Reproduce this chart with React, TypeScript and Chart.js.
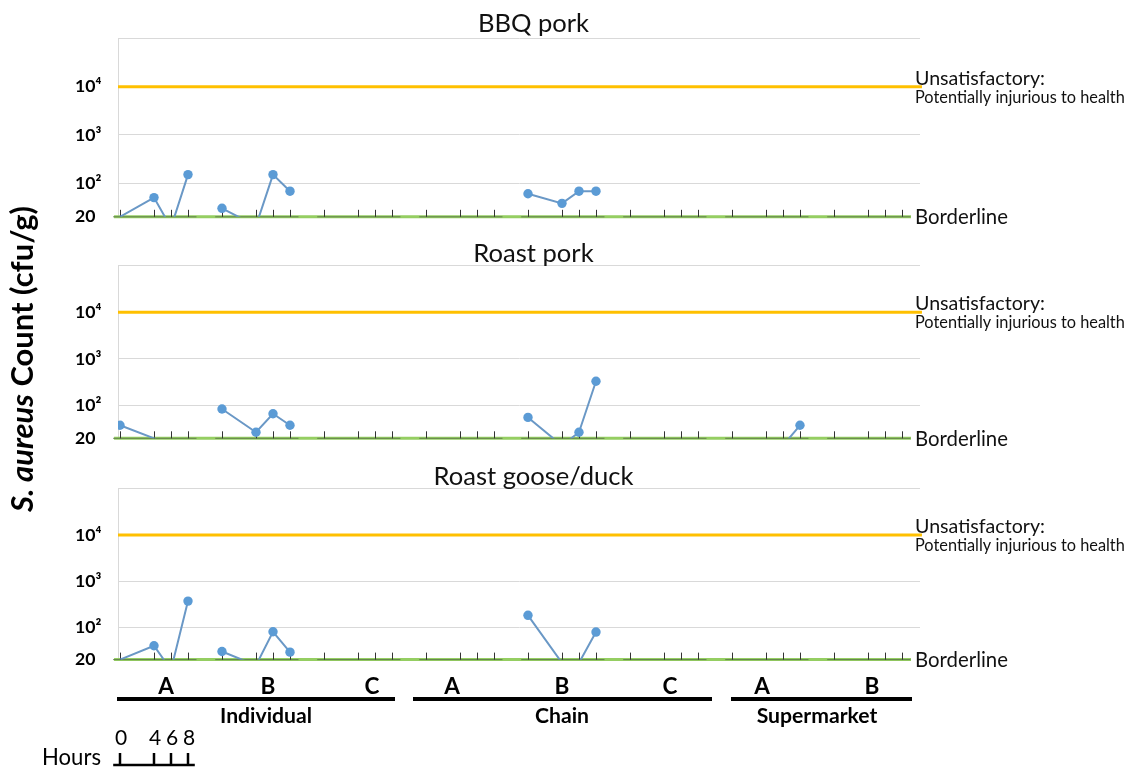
import React, { useEffect, useRef } from 'react';
import { Chart, registerables } from 'chart.js';

Chart.register(...registerables);

// ---------------- data ----------------
const SECTORS = ['Individual', 'Chain', 'Supermarket'];
const OUTLETS = ['A', 'B', 'C', 'A', 'B', 'C', 'A', 'B'];
const HOURS = [0, 4, 6, 8];
const Y_TICKS = [20, 100, 1000, 10000, 100000];
const Y_TICK_LABELS = ['20', '10²', '10³', '10⁴', ''];
const UNSATISFACTORY = 10000;
const BORDERLINE = 20;
const ND = 10; // below the 20 cfu/g limit: plotted under the axis floor

const PANEL_TITLES = ['BBQ pork', 'Roast pork', 'Roast goose/duck'];

const BBQ_PORK = [
  20, 50, 12, 150,
  30, 13, 150, 68,
  ND, ND, ND, ND,
  ND, ND, ND, ND,
  60, 38, 68, 68,
  ND, ND, ND, ND,
  ND, ND, ND, ND,
  ND, ND, ND, ND,
];
const ROAST_PORK = [
  38, 20, ND, ND,
  85, 27, 67, 38,
  ND, ND, ND, ND,
  ND, ND, ND, ND,
  56, 14, 27, 333,
  ND, ND, ND, ND,
  ND, ND, 14, 38,
  ND, ND, ND, ND,
];
const ROAST_GOOSE_DUCK = [
  20, 40, 12, 370,
  30, 15, 80, 29,
  ND, ND, ND, ND,
  ND, ND, ND, ND,
  182, 17, 17, 79,
  ND, ND, ND, ND,
  ND, ND, ND, ND,
  ND, ND, ND, ND,
];
const PANEL_VALUES = [BBQ_PORK, ROAST_PORK, ROAST_GOOSE_DUCK];

// ---------------- layout ----------------
const W = 1133;
const H = 767;
const GROUP_STEP = 12;
const X_MIN = -0.235;
const X_MAX = 94.12;
const LABEL_LEFT = 75;
const PLOT_LEFT = 118;
const PLOT_RIGHT = 920;
const PANEL_TOPS = [38.5, 265.6, 488.8];
const PANEL_BOTTOMS = [216.8, 438.3, 659.6];
const TITLE_BASE = [31.5, 261.7, 485];
const TITLE_CX = 533.5;
const SIDE_X = 915;
const LETTER_X = [166, 268, 372, 452, 562, 670, 762, 872];
const SECTOR_X = [266, 562, 817];
const SECTOR_LINES = [[117, 395], [413, 712], [731, 912]];

const FONT = 'Lato, "Noto Sans", "DejaVu Sans", sans-serif';
const BLUE_LINE = '#6A98C6';
const BLUE_POINT = '#5B9BD5';
const ORANGE = '#FFC000';
const GREEN = '#95CE62';
const GREEN_DARK = '#62804C';

function fitSize(text: string, weight: string, target: number, style = 'normal') {
  const c = document.createElement('canvas').getContext('2d')!;
  c.font = `${style} ${weight} 100px ${FONT}`;
  return (100 * target) / c.measureText(text).width;
}

function seriesPoints(values: number[]) {
  const pts: any[] = [];
  OUTLETS.forEach((_, g) => {
    HOURS.forEach((h, i) => pts.push({ x: g * GROUP_STEP + h, y: values[g * HOURS.length + i] }));
    pts.push({ x: g * GROUP_STEP + 10, y: null });
  });
  return pts;
}

function segmentPoints() {
  const pts: any[] = [];
  OUTLETS.forEach((_, g) => {
    pts.push({ x: g * GROUP_STEP - 0.8, y: BORDERLINE });
    pts.push({ x: g * GROUP_STEP + 9, y: BORDERLINE });
    pts.push({ x: g * GROUP_STEP + 10, y: null });
  });
  return pts;
}

function makeChart(canvas: HTMLCanvasElement, panel: number, sizes: any) {
  const plugin = {
    id: 'annotate' + panel,
    afterDatasetDraw(chart: any, args: any) {
      if (args.index !== 2) return;
      const { ctx } = chart;
      const xs = chart.scales.x;
      const ys = chart.scales.y;
      const yb = ys.getPixelForValue(BORDERLINE);
      ctx.save();
      ctx.strokeStyle = '#333';
      ctx.lineWidth = 1;
      OUTLETS.forEach((_, g) =>
        HOURS.forEach((h) => {
          const x = Math.round(xs.getPixelForValue(g * GROUP_STEP + h)) + 0.5;
          ctx.beginPath();
          ctx.moveTo(x, yb - 7);
          ctx.lineTo(x, yb);
          ctx.stroke();
        })
      );
      ctx.restore();
    },
    afterDraw(chart: any) {
      const { ctx } = chart;
      const xs = chart.scales.x;
      const ys = chart.scales.y;
      const yU = ys.getPixelForValue(UNSATISFACTORY);
      const yB = ys.getPixelForValue(BORDERLINE);
      ctx.save();
      ctx.fillStyle = '#111';
      ctx.textBaseline = 'alphabetic';
      // title
      ctx.textAlign = 'center';
      ctx.font = `normal 400 ${sizes.title}px ${FONT}`;
      ctx.fillText(PANEL_TITLES[panel], TITLE_CX, TITLE_BASE[panel]);
      // side labels
      ctx.textAlign = 'left';
      ctx.font = `normal 400 ${sizes.unsat}px ${FONT}`;
      ctx.fillText('Unsatisfactory:', SIDE_X, yU - 2);
      ctx.font = `normal 400 ${sizes.potent}px ${FONT}`;
      ctx.fillText('Potentially injurious to health', SIDE_X, yU + 16);
      ctx.font = `normal 400 ${sizes.border}px ${FONT}`;
      ctx.fillText('Borderline', SIDE_X, yB + 7.5);

      if (panel === 0) {
        // y axis title
        ctx.save();
        ctx.translate(33, 512);
        ctx.rotate(-Math.PI / 2);
        ctx.fillStyle = '#000';
        ctx.font = `italic 700 ${sizes.ytitle}px ${FONT}`;
        ctx.fillText('S. aureus', 0, 0);
        const w1 = ctx.measureText('S. aureus').width;
        ctx.font = `normal 700 ${sizes.ytitle}px ${FONT}`;
        ctx.fillText(' Count (cfu/g)', w1, 0);
        ctx.restore();
      }

      if (panel === 2) {
        ctx.fillStyle = '#000';
        ctx.strokeStyle = '#000';
        ctx.textAlign = 'center';
        ctx.font = `normal 700 ${sizes.letter}px ${FONT}`;
        OUTLETS.forEach((o, g) => ctx.fillText(o, LETTER_X[g], 694));
        ctx.font = `normal 700 ${sizes.group}px ${FONT}`;
        SECTORS.forEach((s, i) => ctx.fillText(s, SECTOR_X[i], 723));
        ctx.lineWidth = 4;
        SECTOR_LINES.forEach(([a, b]) => {
          ctx.beginPath();
          ctx.moveTo(a, 699);
          ctx.lineTo(b, 699);
          ctx.stroke();
        });
        // hours legend
        ctx.font = `normal 400 ${sizes.digits}px ${FONT}`;
        HOURS.forEach((h) => ctx.fillText(String(h), xs.getPixelForValue(h) + 1, 745));
        ctx.textAlign = 'right';
        ctx.font = `normal 400 ${sizes.hours}px ${FONT}`;
        ctx.fillText('Hours', 101, 765);
        ctx.lineWidth = 2.5;
        ctx.beginPath();
        ctx.moveTo(xs.getPixelForValue(-0.8), 765);
        ctx.lineTo(xs.getPixelForValue(8.8), 765);
        ctx.stroke();
        ctx.lineWidth = 2.5;
        HOURS.forEach((h) => {
          const x = xs.getPixelForValue(h);
          ctx.beginPath();
          ctx.moveTo(x, 753);
          ctx.lineTo(x, 765);
          ctx.stroke();
        });
      }
      ctx.restore();
    },
  };

  return new Chart(canvas, {
    type: 'line',
    data: {
      datasets: [
        {
          data: seriesPoints(PANEL_VALUES[panel]),
          borderColor: BLUE_LINE,
          borderWidth: 2,
          backgroundColor: BLUE_POINT,
          pointBackgroundColor: BLUE_POINT,
          pointBorderColor: BLUE_POINT,
          pointBorderWidth: 0,
          pointRadius: (c: any) => (c.raw && c.raw.y > BORDERLINE ? 4.7 : 0),
          tension: 0,
          order: 0,
        },
        {
          data: [{ x: X_MIN, y: UNSATISFACTORY }, { x: 94.35, y: UNSATISFACTORY }],
          borderColor: ORANGE,
          borderWidth: 3,
          pointRadius: 0,
          clip: false,
          order: 1,
        },
        {
          data: segmentPoints(),
          borderColor: GREEN_DARK,
          borderWidth: 1,
          pointRadius: 0,
          clip: false,
          order: 2,
        },
        {
          data: [{ x: -0.7, y: BORDERLINE }, { x: 93.06, y: BORDERLINE }],
          borderColor: GREEN,
          borderWidth: 3,
          pointRadius: 0,
          clip: false,
          order: 3,
        },
      ] as any,
    },
    options: {
      responsive: false,
      animation: false,
      events: [],
      layout: {
        padding: {
          left: LABEL_LEFT,
          right: W - PLOT_RIGHT,
          top: PANEL_TOPS[panel],
          bottom: H - PANEL_BOTTOMS[panel],
        },
      },
      plugins: {
        legend: { display: false },
        tooltip: { enabled: false },
        title: { display: false },
      },
      scales: {
        x: { type: 'linear', min: X_MIN, max: X_MAX, display: false },
        y: {
          type: 'logarithmic',
          min: 20,
          max: 100000,
          afterBuildTicks: (axis: any) => {
            axis.ticks = Y_TICKS.map((v) => ({ value: v }));
          },
          afterFit: (axis: any) => {
            axis.width = PLOT_LEFT - LABEL_LEFT;
          },
          grid: {
            color: (c: any) => (c.tick && c.tick.value === 20 ? 'rgba(0,0,0,0)' : '#D9D9D9'),
            lineWidth: 1,
            drawTicks: false,
          },
          border: { display: true, color: '#D9D9D9', width: 1 },
          ticks: {
            autoSkip: false,
            crossAlign: 'far',
            color: '#000',
            font: { family: FONT, weight: 'bold', size: sizes.tick },
            callback: (v: any) => {
              const i = Y_TICKS.indexOf(Number(v));
              return i >= 0 ? Y_TICK_LABELS[i] : '';
            },
          },
        },
      },
    } as any,
    plugins: [plugin as any],
  });
}

export default function App() {
  const refs = [useRef<HTMLCanvasElement>(null), useRef<HTMLCanvasElement>(null), useRef<HTMLCanvasElement>(null)];

  useEffect(() => {
    Chart.defaults.font.family = FONT;
    const sizes = {
      title: fitSize('Roast goose/duck', '400', 200),
      unsat: fitSize('Unsatisfactory:', '400', 130),
      potent: fitSize('Potentially injurious to health', '400', 210),
      border: fitSize('Borderline', '400', 93),
      tick: fitSize('20', '700', 20.5),
      ytitle: fitSize('S. aureus Count (cfu/g)', '700', 312),
      group: fitSize('Individual', '700', 92),
      letter: fitSize('Individual', '700', 98),
      digits: 21,
      hours: fitSize('Hours', '400', 59),
    };
    const charts = refs.map((r, i) => makeChart(r.current!, i, sizes));
    return () => charts.forEach((c) => c.destroy());
  }, []);

  return (
    <div style={{ position: 'absolute', left: 0, top: 0, width: W, height: H, background: '#fff' }}>
      {refs.map((r, i) => (
        <canvas
          key={i}
          ref={r}
          width={W}
          height={H}
          style={{ position: 'absolute', left: 0, top: 0, width: W, height: H }}
        />
      ))}
    </div>
  );
}
